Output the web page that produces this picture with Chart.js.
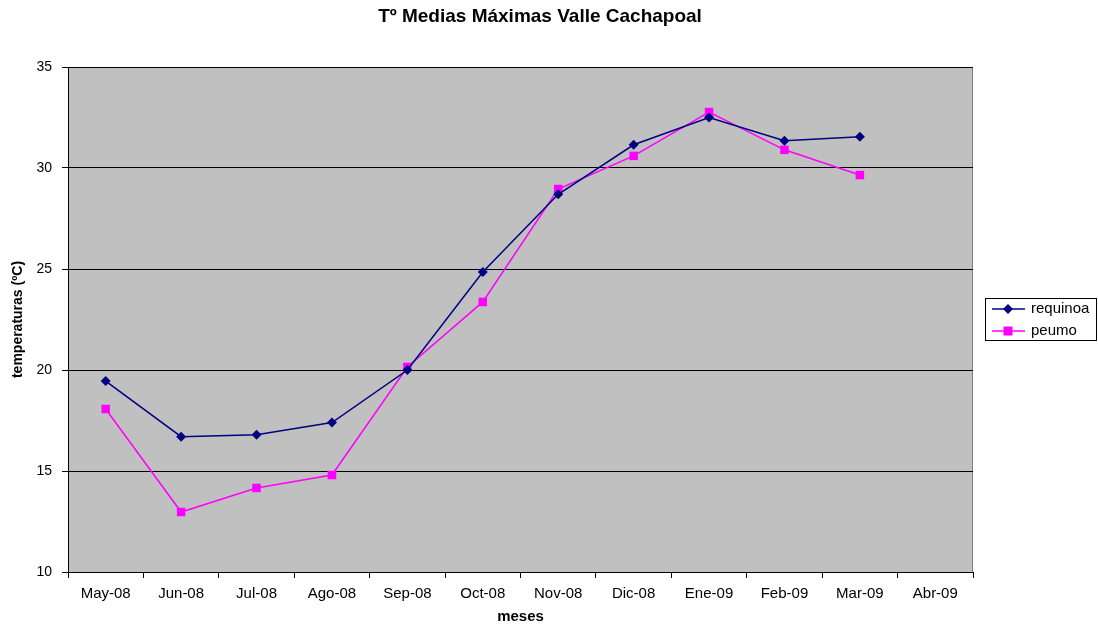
<!DOCTYPE html>
<html>
<head>
<meta charset="utf-8">
<script src="https://cdn.jsdelivr.net/npm/chart.js@4"></script>
<style>
  html, body { margin: 0; padding: 0; background: #fff; }
  #wrap { width: 1098px; height: 626px; }
</style>
</head>
<body>
<div id="wrap"><canvas id="grafico"></canvas></div>
<script>
// Datos
const meses = ['May-08', 'Jun-08', 'Jul-08', 'Ago-08', 'Sep-08', 'Oct-08', 'Nov-08', 'Dic-08', 'Ene-09', 'Feb-09', 'Mar-09', 'Abr-09'];
const requinoa = [19.45, 16.7, 16.8, 17.4, 20.0, 24.85, 28.7, 31.15, 32.5, 31.35, 31.55, null];
const peumo = [18.07, 12.97, 14.16, 14.8, 20.15, 23.37, 28.96, 30.6, 32.77, 30.9, 29.65, null];
const ticksY = [10, 15, 20, 25, 30, 35];

const FUENTE = '"Liberation Sans", Arial, sans-serif';

// Fondo gris del área de trazado
const fondoPlot = {
    id: 'fondoPlot',
    afterLayout(chart) {
        // el título va centrado sobre todo el gráfico, no solo el área de trazado
        chart.titleBlock.left = 0;
        chart.titleBlock.right = 1080;
        chart.titleBlock.width = 1080;
    },
    beforeDraw(chart) {
        const { ctx, chartArea: a } = chart;
        ctx.save();
        ctx.fillStyle = '#C0C0C0';
        ctx.fillRect(a.left, a.top, a.right - a.left, a.bottom - a.top);
        ctx.strokeStyle = '#808080';
        ctx.lineWidth = 1;
        ctx.strokeRect(a.left + 0.5, a.top + 0.5, a.right - a.left - 1, a.bottom - a.top);
        ctx.restore();
    }
};

// Leyenda con recuadro, como en Excel
const leyendaCaja = {
    id: 'leyendaCaja',
    afterDraw(chart) {
        const ctx = chart.ctx;
        const x = 985, y = 298, w = 112, h = 43;
        ctx.save();
        ctx.fillStyle = '#fff';
        ctx.fillRect(x, y, w, h);
        ctx.strokeStyle = '#000';
        ctx.lineWidth = 1;
        ctx.strokeRect(x + 0.5, y + 0.5, w - 1, h - 1);
        chart.data.datasets.forEach((ds, i) => {
            const cy = y + 11 + i * 22;
            ctx.strokeStyle = ds.borderColor;
            ctx.lineWidth = 1.5;
            ctx.beginPath();
            ctx.moveTo(x + 7, cy);
            ctx.lineTo(x + 40, cy);
            ctx.stroke();
            ctx.fillStyle = ds.backgroundColor;
            const cx = x + 23;
            if (ds.pointStyle === 'rectRot') {
                ctx.beginPath();
                ctx.moveTo(cx, cy - 5);
                ctx.lineTo(cx + 5, cy);
                ctx.lineTo(cx, cy + 5);
                ctx.lineTo(cx - 5, cy);
                ctx.closePath();
                ctx.fill();
            } else {
                ctx.fillRect(cx - 4.5, cy - 4.5, 9, 9);
            }
            ctx.fillStyle = '#000';
            ctx.font = '15px ' + FUENTE;
            ctx.textBaseline = 'middle';
            ctx.fillText(ds.label, x + 46, cy);
        });
        ctx.restore();
    }
};

const ctx = document.getElementById('grafico').getContext('2d');
new Chart(ctx, {
    type: 'line',
    data: {
        labels: meses,
        datasets: [
            {
                label: 'requinoa',
                data: requinoa,
                borderColor: '#000080',
                backgroundColor: '#000080',
                borderWidth: 1.5,
                pointStyle: 'rectRot',
                pointRadius: 5,
                pointBorderWidth: 0,
                tension: 0,
            },
            {
                label: 'peumo',
                data: peumo,
                borderColor: '#FF00FF',
                backgroundColor: '#FF00FF',
                borderWidth: 1.5,
                pointStyle: 'rect',
                pointRadius: 6,
                pointBorderWidth: 0,
                tension: 0,
            },
        ],
    },
    options: {
        responsive: true,
        maintainAspectRatio: false,
        animation: false,
        layout: { padding: { left: 0, right: 125, top: 0, bottom: 0 } },
        plugins: {
            legend: { display: false },
            tooltip: { enabled: false },
            title: {
                display: true,
                text: 'Tº Medias Máximas Valle Cachapoal',
                color: '#000',
                font: { family: FUENTE, size: 19, weight: 'bold' },
                padding: { top: 5, bottom: 39.2 },
            },
        },
        scales: {
            x: {
                type: 'category',
                offset: true,
                afterFit(scale) { scale.height = 54; },
                grid: {
                    offset: true,
                    drawOnChartArea: false,
                    color: '#000',
                    tickLength: 6,
                },
                border: { color: '#000', width: 1 },
                ticks: {
                    color: '#000',
                    padding: 7,
                    maxRotation: 0,
                    autoSkip: false,
                    font: { family: FUENTE, size: 15 },
                },
                title: {
                    display: true,
                    text: 'meses',
                    color: '#000',
                    font: { family: FUENTE, size: 15, weight: 'bold' },
                    padding: { top: 5, bottom: 0 },
                },
            },
            y: {
                min: 10,
                max: 35,
                afterFit(scale) { scale.width = 68; },
                afterBuildTicks(scale) { scale.ticks = ticksY.map(v => ({ value: v })); },
                grid: {
                    color: '#000',
                    lineWidth: 1,
                    tickLength: 6,
                },
                border: { color: '#000', width: 1 },
                ticks: {
                    color: '#000',
                    padding: 10,
                    font: { family: FUENTE, size: 14 },
                },
                title: {
                    display: true,
                    text: 'temperaturas (ºC)',
                    color: '#000',
                    font: { family: FUENTE, size: 14, weight: 'bold' },
                    padding: { top: 10, bottom: 8 },
                },
            },
        },
    },
    plugins: [fondoPlot, leyendaCaja],
});
</script>
</body>
</html>
